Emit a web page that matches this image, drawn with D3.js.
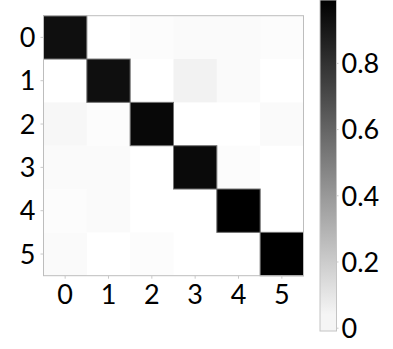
<!DOCTYPE html>
<html>
<head>
<meta charset="utf-8">
<script src="https://cdn.jsdelivr.net/npm/d3@7"></script>
<style>
  html, body { margin: 0; padding: 0; background: #fff; }
  svg { display: block; font-family: Lato, "Open Sans", sans-serif; }
</style>
</head>
<body>
<svg id="chart" width="393" height="349"></svg>
<script>
// Class labels for rows (true) and columns (predicted)
const rowLabels = ["0", "1", "2", "3", "4", "5"];
const colLabels = ["0", "1", "2", "3", "4", "5"];

// Normalised matrix values, one row per class
const row0 = [0.93, 0.00, 0.01, 0.02, 0.02, 0.01];
const row1 = [0.00, 0.93, 0.00, 0.05, 0.02, 0.00];
const row2 = [0.03, 0.01, 0.96, 0.00, 0.00, 0.02];
const row3 = [0.02, 0.02, 0.00, 0.95, 0.01, 0.00];
const row4 = [0.01, 0.02, 0.00, 0.00, 0.99, 0.00];
const row5 = [0.02, 0.00, 0.01, 0.00, 0.00, 0.99];
const rows = [row0, row1, row2, row3, row4, row5];

// Colour bar range and ticks
const colorMin = -0.01;
const colorMax = 0.99;
const colorTicks = [0, 0.2, 0.4, 0.6, 0.8];

const svg = d3.select("#chart");

const plot = { left: 43.5, top: 15.7, size: 260 };
const bar = { x: 320, width: 16.5, top: 0, bottom: 331 };

const x = d3.scaleBand().domain(colLabels).range([plot.left, plot.left + plot.size]);
const y = d3.scaleBand().domain(rowLabels).range([plot.top, plot.top + plot.size]);

// white (low) to black (high)
const color = d3.scaleLinear().domain([0, colorMax]).range([255, 0]).clamp(true);
const fill = v => { const g = Math.round(color(v)); return d3.rgb(g, g, g).formatHex(); };
const edge = v => {
  const g = color(v);
  const s = Math.round(g + 110 * (1 - g / 255));
  return d3.rgb(s, s, s).formatHex();
};

const cells = [];
rows.forEach((r, i) => r.forEach((v, j) => cells.push({ row: rowLabels[i], col: colLabels[j], v })));

// light cells first so dark cell outlines sit on top
svg.append("g").selectAll("rect")
  .data(cells.slice().sort((a, b) => a.v - b.v))
  .join("rect")
  .attr("x", d => x(d.col))
  .attr("y", d => y(d.row))
  .attr("width", x.bandwidth())
  .attr("height", y.bandwidth())
  .attr("fill", d => fill(d.v))
  .attr("stroke", d => d.v > 0.5 ? edge(d.v) : "none")
  .attr("stroke-width", 1);

// frame
svg.append("rect")
  .attr("x", plot.left).attr("y", plot.top)
  .attr("width", plot.size).attr("height", plot.size)
  .attr("fill", "none").attr("stroke", "#bdbdbd").attr("stroke-width", 1);

// axes
const styleAxis = g => {
  g.select(".domain").remove();
  g.selectAll(".tick line").attr("stroke", "#c8c8c8");
  g.selectAll(".tick text").attr("fill", "#000").attr("font-size", "27px")
    .attr("font-family", "Lato, 'Open Sans', sans-serif");
};

svg.append("g")
  .attr("transform", `translate(${plot.left},0)`)
  .call(d3.axisLeft(y).tickSize(3).tickPadding(5))
  .call(styleAxis)
  .selectAll(".tick text").attr("dy", "0.36em");

svg.append("g")
  .attr("transform", `translate(0,${plot.top + plot.size})`)
  .call(d3.axisBottom(x).tickSize(3).tickPadding(6))
  .call(styleAxis);

// colour bar
const cy = d3.scaleLinear().domain([colorMin, colorMax]).range([bar.bottom, bar.top]);
const defs = svg.append("defs");
const grad = defs.append("linearGradient")
  .attr("id", "cbar").attr("x1", 0).attr("y1", 1).attr("x2", 0).attr("y2", 0);
d3.range(0, 1.0001, 0.05).forEach(t => {
  const v = colorMin + t * (colorMax - colorMin);
  grad.append("stop").attr("offset", t).attr("stop-color", fill(Math.max(v, 0.04 * (1 - t))));
});

svg.append("rect")
  .attr("x", bar.x).attr("y", bar.top)
  .attr("width", bar.width).attr("height", bar.bottom - bar.top)
  .attr("fill", "url(#cbar)")
  .attr("stroke", "#c4c4c4").attr("stroke-width", 1);

svg.append("g")
  .attr("transform", `translate(${bar.x + bar.width},0)`)
  .call(d3.axisRight(cy).tickValues(colorTicks).tickFormat(d => d === 0 ? "0" : d3.format(".1f")(d))
    .tickSize(2).tickPadding(3))
  .call(styleAxis)
  .selectAll(".tick text").attr("dy", "0.36em");
</script>
</body>
</html>
